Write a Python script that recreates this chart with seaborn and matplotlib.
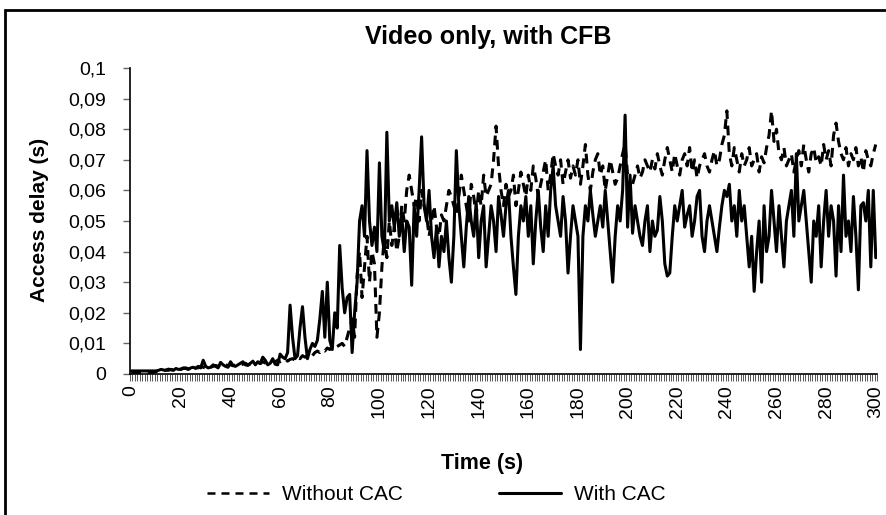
import numpy as np
import pandas as pd
import matplotlib
matplotlib.use("Agg")
import matplotlib.pyplot as plt
import seaborn as sns
from matplotlib.lines import Line2D
from matplotlib.patches import Rectangle

# ---------------- data ----------------
time_s = list(range(0, 301))

with_cac = [
    0.001, 0.001, 0.001, 0.001, 0.001, 0.001, 0.001, 0.001, 0.001, 0.001,
    0.001, 0.0012, 0.0015, 0.0013, 0.0012, 0.0016, 0.0014, 0.0012, 0.0018, 0.0015,
    0.0016, 0.002, 0.0018, 0.0015, 0.002, 0.0022, 0.0018, 0.0025, 0.002, 0.0045,
    0.0025, 0.002, 0.0022, 0.003, 0.0025, 0.002, 0.0038, 0.003, 0.0025, 0.0022,
    0.004, 0.0028, 0.0025, 0.003, 0.0035, 0.004, 0.003, 0.0028, 0.0035, 0.0042,
    0.003, 0.004, 0.0035, 0.0055, 0.0045, 0.003, 0.0035, 0.005, 0.0032, 0.003,
    0.0065, 0.0055, 0.005, 0.007, 0.0225, 0.012, 0.005, 0.006, 0.015, 0.022,
    0.012, 0.005, 0.008, 0.01, 0.009, 0.011, 0.018, 0.027, 0.012, 0.030,
    0.011, 0.008, 0.02, 0.015, 0.042, 0.028, 0.02, 0.025, 0.026, 0.007,
    0.02, 0.03, 0.05, 0.055, 0.045, 0.073, 0.05, 0.042, 0.048, 0.04,
    0.069, 0.045, 0.04, 0.079, 0.05, 0.055, 0.048, 0.056, 0.045, 0.052,
    0.04, 0.05, 0.048, 0.029, 0.055, 0.045, 0.06, 0.0775, 0.055, 0.05,
    0.06, 0.045, 0.038, 0.048, 0.035, 0.045, 0.04, 0.05, 0.038, 0.03,
    0.045, 0.073, 0.055, 0.045, 0.035, 0.048, 0.058, 0.05, 0.045, 0.056,
    0.038, 0.05, 0.055, 0.035, 0.045, 0.055, 0.05, 0.04, 0.058, 0.052,
    0.045, 0.055, 0.06, 0.045, 0.035, 0.026, 0.045, 0.055, 0.05, 0.058,
    0.045, 0.055, 0.036, 0.05, 0.06, 0.048, 0.04, 0.055, 0.045, 0.06,
    0.068, 0.055, 0.05, 0.045, 0.058, 0.05, 0.033, 0.045, 0.055, 0.05,
    0.045, 0.008, 0.045, 0.055, 0.05, 0.06, 0.052, 0.045, 0.05, 0.055,
    0.048, 0.06, 0.05, 0.04, 0.03, 0.045, 0.055, 0.05, 0.06, 0.0846,
    0.048, 0.065, 0.046, 0.055, 0.05, 0.045, 0.042, 0.05, 0.055, 0.04,
    0.05, 0.045, 0.047, 0.058, 0.05, 0.036, 0.032, 0.033, 0.045, 0.055,
    0.05, 0.055, 0.06, 0.048, 0.052, 0.055, 0.045, 0.05, 0.058, 0.06,
    0.045, 0.04, 0.05, 0.055, 0.05, 0.045, 0.04, 0.048, 0.055, 0.06,
    0.058, 0.062, 0.05, 0.055, 0.045, 0.06, 0.05, 0.055, 0.045, 0.035,
    0.045, 0.027, 0.04, 0.05, 0.03, 0.055, 0.04, 0.045, 0.06, 0.05,
    0.04, 0.055, 0.045, 0.035, 0.05, 0.055, 0.06, 0.045, 0.072, 0.05,
    0.055, 0.06, 0.05, 0.04, 0.03, 0.05, 0.045, 0.055, 0.035, 0.05,
    0.06, 0.045, 0.055, 0.05, 0.032, 0.055, 0.04, 0.065, 0.045, 0.05,
    0.04, 0.058, 0.045, 0.0275, 0.055, 0.056, 0.05, 0.06, 0.035, 0.06,
    0.038,
]

without_cac = [
    0.0005, 0.0005, 0.0005, 0.0005, 0.0005, 0.0005, 0.0005, 0.0005, 0.0005, 0.0005,
    0.0008, 0.001, 0.0012, 0.001, 0.0013, 0.0012, 0.0015, 0.0013, 0.0014, 0.0016,
    0.0015, 0.0018, 0.002, 0.0017, 0.0019, 0.002, 0.0022, 0.002, 0.0025, 0.0022,
    0.002, 0.0025, 0.0022, 0.0025, 0.0028, 0.0025, 0.003, 0.0026, 0.003, 0.0028,
    0.003, 0.0027, 0.003, 0.0033, 0.003, 0.0032, 0.0035, 0.003, 0.0033, 0.0036,
    0.0035, 0.0038, 0.0034, 0.004, 0.0036, 0.0038, 0.004, 0.0042, 0.004, 0.0045,
    0.004, 0.0045, 0.005, 0.0042, 0.0048, 0.005, 0.0045, 0.0055, 0.005, 0.006,
    0.0055, 0.006, 0.0065, 0.006, 0.007, 0.0075, 0.007, 0.008, 0.0075, 0.0085,
    0.008, 0.009, 0.0085, 0.009, 0.0095, 0.01, 0.009, 0.012, 0.015, 0.018,
    0.012, 0.032, 0.04, 0.025, 0.035, 0.045, 0.03, 0.04, 0.036, 0.012,
    0.02, 0.035, 0.045, 0.038, 0.05, 0.042, 0.048, 0.04, 0.045, 0.055,
    0.05, 0.06, 0.065, 0.06, 0.055, 0.058, 0.05, 0.06, 0.055, 0.052,
    0.045, 0.05, 0.055, 0.048, 0.045, 0.052, 0.05, 0.055, 0.06, 0.058,
    0.055, 0.052, 0.058, 0.065, 0.06, 0.055, 0.05, 0.062, 0.058, 0.052,
    0.06, 0.055, 0.065, 0.058, 0.06, 0.062, 0.07, 0.081, 0.068, 0.06,
    0.055, 0.062, 0.058, 0.06, 0.065, 0.055, 0.06, 0.066, 0.062, 0.058,
    0.065, 0.06, 0.068, 0.064, 0.058, 0.062, 0.066, 0.07, 0.06, 0.065,
    0.072, 0.068, 0.065, 0.07, 0.062, 0.066, 0.07, 0.064, 0.068, 0.065,
    0.07, 0.062, 0.068, 0.075, 0.065, 0.06, 0.066, 0.07, 0.072, 0.065,
    0.068, 0.06, 0.065, 0.07, 0.066, 0.062, 0.064, 0.068, 0.072, 0.075,
    0.065, 0.06, 0.062, 0.065, 0.068, 0.064, 0.066, 0.07, 0.068, 0.066,
    0.07, 0.067, 0.072, 0.068, 0.065, 0.07, 0.074, 0.07, 0.066, 0.072,
    0.068, 0.065, 0.07, 0.072, 0.068, 0.074, 0.066, 0.07, 0.064, 0.068,
    0.07, 0.072, 0.068, 0.066, 0.07, 0.073, 0.068, 0.07, 0.075, 0.078,
    0.086, 0.072, 0.068, 0.074, 0.07, 0.066, 0.072, 0.068, 0.07, 0.074,
    0.068, 0.07, 0.072, 0.066, 0.071, 0.069, 0.074, 0.078, 0.086, 0.076,
    0.08, 0.072, 0.07, 0.074, 0.068, 0.07, 0.072, 0.066, 0.07, 0.073,
    0.068, 0.075, 0.07, 0.066, 0.072, 0.074, 0.069, 0.071, 0.068, 0.075,
    0.07, 0.073, 0.068, 0.078, 0.082, 0.076, 0.072, 0.07, 0.074, 0.068,
    0.072, 0.07, 0.074, 0.068, 0.071, 0.066, 0.073, 0.07, 0.068, 0.072,
    0.075,
]

series_names = ["Without CAC", "With CAC"]
y_ticks = [0, 0.01, 0.02, 0.03, 0.04, 0.05, 0.06, 0.07, 0.08, 0.09, 0.1]
y_tick_labels = ["0", "0,01", "0,02", "0,03", "0,04", "0,05", "0,06", "0,07", "0,08", "0,09", "0,1"]
x_label_ticks = list(range(0, 301, 20))

# ---------------- figure ----------------
sns.set_theme(style="white")
plt.rcParams["font.family"] = ["Liberation Sans", "DejaVu Sans"]
plt.rcParams["text.color"] = "black"
plt.rcParams["axes.labelcolor"] = "black"

df = pd.concat([
    pd.DataFrame({"t": time_s, "v": without_cac, "series": series_names[0]}),
    pd.DataFrame({"t": time_s, "v": with_cac, "series": series_names[1]}),
])

W, H = 887, 515
fig = plt.figure(figsize=(W / 100, H / 100), dpi=100)
ax = fig.add_axes([130 / W, 1 - 374 / H, (877 - 130) / W, (374 - 68) / H])

sns.lineplot(
    data=df, x="t", y="v", style="series", ax=ax, color="black",
    dashes={series_names[0]: (3.2, 2.2), series_names[1]: ""},
    linewidth=2.2, legend=False, estimator=None,
)

ax.set_xlim(-0.5, 300.5)
ax.set_ylim(0, 0.1)
ax.set_yticks(y_ticks)
ax.set_yticklabels(y_tick_labels, fontsize=14)
ax.tick_params(axis="y", which="major", direction="out", length=5, width=1,
               color="#666666", left=True, pad=12, labelcolor="black")

ax.set_xticks(x_label_ticks)
ax.set_xticklabels([str(v) for v in x_label_ticks], rotation=90, fontsize=14)
ax.tick_params(axis="x", which="major", length=0, pad=8, labelcolor="black")
ax.set_xticks(np.arange(-0.5, 301, 1), minor=True)
ax.tick_params(axis="x", which="minor", direction="out", length=5, width=0.7,
               color="#555555", bottom=True)

for s in ["top", "right"]:
    ax.spines[s].set_visible(False)
for s in ["left", "bottom"]:
    ax.spines[s].set_visible(True)
    ax.spines[s].set_color("black")
    ax.spines[s].set_linewidth(1.2)
ax.grid(False)
ax.set_xlabel("")
ax.set_ylabel("")

fig.text(488 / W, 1 - 37 / H, "Video only, with CFB", ha="center", va="center",
         fontsize=18, fontweight="bold")
fig.text(40 / W, 1 - 220 / H, "Access delay (s)", ha="center", va="center",
         rotation=90, fontsize=15, fontweight="bold")
fig.text(482 / W, 1 - 464 / H, "Time (s)", ha="center", va="center",
         fontsize=15.5, fontweight="bold")

handles = [
    Line2D([], [], color="black", linewidth=1.8, dashes=(3.2, 2.4)),
    Line2D([], [], color="black", linewidth=2.2),
]
fig.legend(handles, series_names, loc="center", bbox_to_anchor=(436 / W, 1 - 495 / H),
           ncol=2, frameon=False, fontsize=15, handlelength=3.0, handletextpad=0.6,
           columnspacing=4.6, borderpad=0, borderaxespad=0)

fig.patches.append(Rectangle((5 / W, -0.05), 1.1, 1 - 10 / H + 0.05,
                             transform=fig.transFigure, fill=False,
                             edgecolor="black", linewidth=2))

fig.savefig("out.png", dpi=100)
